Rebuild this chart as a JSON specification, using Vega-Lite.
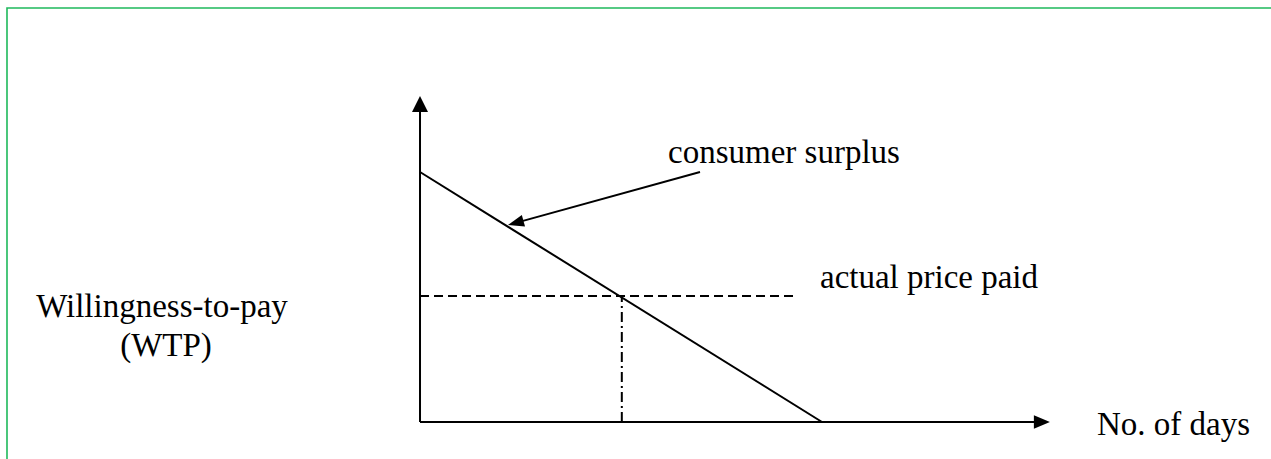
{
  "$schema": "https://vega.github.io/schema/vega-lite/v6.json",
  "width": 1271,
  "height": 459,
  "padding": 0,
  "autosize": {"type": "none"},
  "background": "white",
  "config": {"view": {"stroke": null}},
  "datasets": {
    "border": [
      {"order": 1, "x": -10.274, "y": -1.6},
      {"order": 2, "x": -10.274, "y": 16.56},
      {"order": 3, "x": 21.3, "y": 16.56}
    ],
    "solid": [
      {"item": "WTP axis", "x1": 0, "y1": 0, "x2": 0, "y2": 12.72},
      {"item": "days axis", "x1": 0, "y1": 0, "x2": 15.47, "y2": 0},
      {"item": "demand", "x1": 0, "y1": 10, "x2": 10, "y2": 0},
      {"item": "pointer", "x1": 6.965, "y1": 10.0, "x2": 2.381, "y2": 7.964}
    ],
    "price": [{"item": "actual price paid", "x1": 0, "y1": 5.04, "x2": 9.35, "y2": 5.04}],
    "quantity": [{"item": "days bought", "x1": 5.02, "y1": 0, "x2": 5.02, "y2": 5.04}],
    "headUp": [{"x": 0, "y": 12.72}],
    "headRight": [{"x": 15.47, "y": 0}],
    "headPointer": [{"x": 2.381, "y": 7.964}],
    "labelsLeft": [
      {"label": "consumer surplus", "x": 6.169, "y": 10.36},
      {"label": "actual price paid", "x": 9.95, "y": 5.36},
      {"label": "No. of days", "x": 16.84, "y": -0.52}
    ],
    "labelsCenter": [
      {"label": "Willingness-to-pay", "x": -6.418, "y": 4.2},
      {"label": "(WTP)", "x": -6.318, "y": 2.64}
    ]
  },
  "layer": [
    {
      "data": {"name": "border"},
      "mark": {"type": "line", "color": "#1fb95c", "strokeWidth": 1.6},
      "encoding": {
        "x": {"field": "x", "type": "quantitative", "scale": {"domain": [-10.448, 21.169], "nice": false, "zero": false}, "axis": null},
        "y": {"field": "y", "type": "quantitative", "scale": {"domain": [-1.48, 16.88], "nice": false, "zero": false}, "axis": null},
        "order": {"field": "order", "type": "quantitative"}
      }
    },
    {
      "data": {"name": "solid"},
      "mark": {"type": "rule", "color": "black", "strokeWidth": 2},
      "encoding": {
        "x": {"field": "x1", "type": "quantitative", "axis": null},
        "y": {"field": "y1", "type": "quantitative", "axis": null},
        "x2": {"field": "x2"},
        "y2": {"field": "y2"}
      }
    },
    {
      "data": {"name": "price"},
      "mark": {"type": "rule", "color": "black", "strokeWidth": 2, "strokeDash": [9, 5]},
      "encoding": {
        "x": {"field": "x1", "type": "quantitative", "axis": null},
        "y": {"field": "y1", "type": "quantitative", "axis": null},
        "x2": {"field": "x2"},
        "y2": {"field": "y2"}
      }
    },
    {
      "data": {"name": "quantity"},
      "mark": {"type": "rule", "color": "black", "strokeWidth": 2, "strokeDash": [10, 4, 2, 4]},
      "encoding": {
        "x": {"field": "x1", "type": "quantitative", "axis": null},
        "y": {"field": "y1", "type": "quantitative", "axis": null},
        "x2": {"field": "x2"},
        "y2": {"field": "y2"}
      }
    },
    {
      "data": {"name": "headUp"},
      "mark": {"type": "point", "shape": "M-1,1L1,1L0,-1Z", "size": 256, "filled": true, "color": "black", "opacity": 1},
      "encoding": {
        "x": {"field": "x", "type": "quantitative", "axis": null},
        "y": {"field": "y", "type": "quantitative", "axis": null}
      }
    },
    {
      "data": {"name": "headRight"},
      "mark": {"type": "point", "shape": "M-1,-0.85L1,0L-1,0.85Z", "size": 256, "filled": true, "color": "black", "opacity": 1},
      "encoding": {
        "x": {"field": "x", "type": "quantitative", "axis": null},
        "y": {"field": "y", "type": "quantitative", "axis": null}
      }
    },
    {
      "data": {"name": "headPointer"},
      "mark": {"type": "point", "shape": "M-1,-0.75L1,0L-1,0.75Z", "size": 256, "angle": 164.6, "filled": true, "color": "black", "opacity": 1},
      "encoding": {
        "x": {"field": "x", "type": "quantitative", "axis": null},
        "y": {"field": "y", "type": "quantitative", "axis": null}
      }
    },
    {
      "data": {"name": "labelsLeft"},
      "mark": {"type": "text", "align": "left", "baseline": "alphabetic", "font": "'Liberation Serif', 'Times New Roman', 'DejaVu Serif', serif", "fontSize": 33, "color": "black"},
      "encoding": {
        "x": {"field": "x", "type": "quantitative", "axis": null},
        "y": {"field": "y", "type": "quantitative", "axis": null},
        "text": {"field": "label"}
      }
    },
    {
      "data": {"name": "labelsCenter"},
      "mark": {"type": "text", "align": "center", "baseline": "alphabetic", "font": "'Liberation Serif', 'Times New Roman', 'DejaVu Serif', serif", "fontSize": 33, "color": "black"},
      "encoding": {
        "x": {"field": "x", "type": "quantitative", "axis": null},
        "y": {"field": "y", "type": "quantitative", "axis": null},
        "text": {"field": "label"}
      }
    }
  ]
}
